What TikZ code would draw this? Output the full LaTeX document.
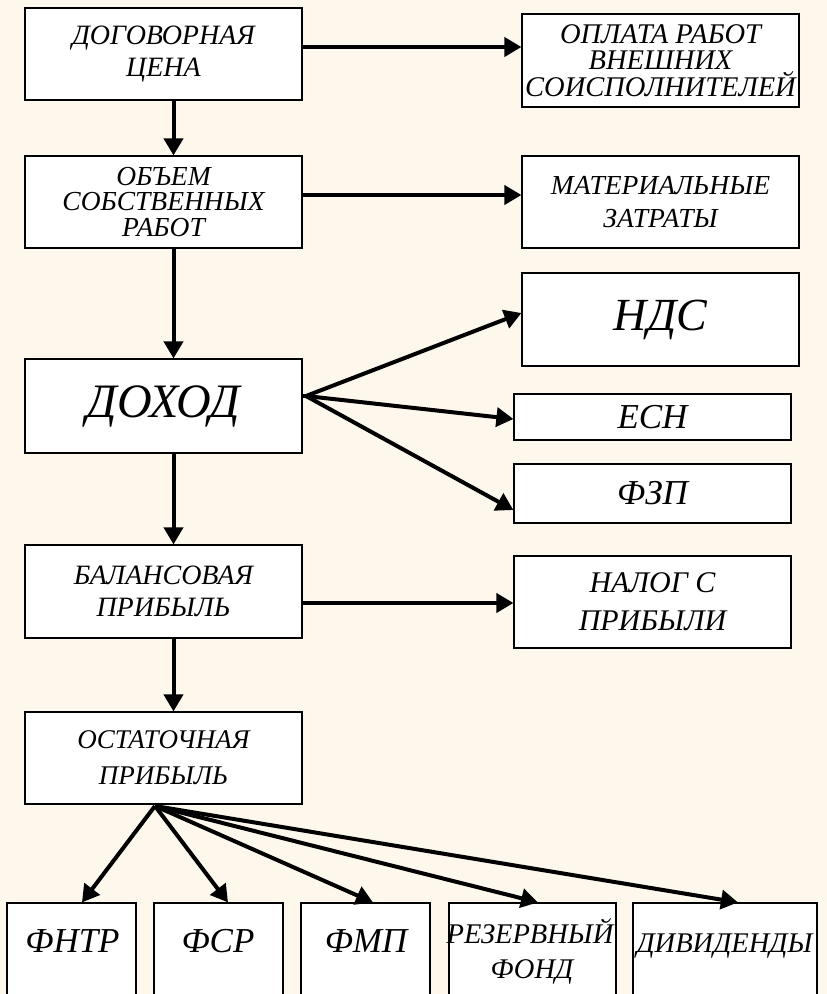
\documentclass[tikz,border=0pt]{standalone}
\usepackage{fontspec}
\setmainfont{Liberation Serif}
\usetikzlibrary{arrows.meta}
\definecolor{bg}{RGB}{253,248,235}
\begin{document}
\begin{tikzpicture}[x=1pt,y=-1pt,
  box/.style={draw, line width=1.2pt, fill=white, inner sep=0pt, align=center},
  txt/.style={inner sep=0pt, align=center},
  arr/.style={line width=4pt, -{Triangle[length=17pt,width=19pt]}},
  fs/.style 2 args={font=\fontsize{#1}{#2}\selectfont\itshape},
]
\fill[bg] (0,0) rectangle (827,994);
\useasboundingbox (0,0) rectangle (827,994);
\clip (0,0) rectangle (827,994);

% left column
\node[box, minimum width=277pt, minimum height=92pt, fs={28}{32}] (dog) at (163.5,54) {ДОГОВОРНАЯ\\ЦЕНА};
\node[box, minimum width=277pt, minimum height=92pt, fs={27.5}{25.5}] (obj) at (163.5,202) {ОБЪЕМ\\СОБСТВЕННЫХ\\РАБОТ};
\node[box, minimum width=277pt, minimum height=94pt, fs={48}{48}] (dox) at (163.5,406) {ДОХОД};
\node[box, minimum width=277pt, minimum height=93pt, fs={28}{32}] (bal) at (163.5,591.5) {БАЛАНСОВАЯ\\ПРИБЫЛЬ};
\node[box, minimum width=277pt, minimum height=92pt, fs={27}{36}] (ost) at (163.5,758) {ОСТАТОЧНАЯ\\ПРИБЫЛЬ};

% right column
\node[box, minimum width=277pt, minimum height=93pt, fs={28.5}{26.5}] (opl) at (660.5,60.5) {ОПЛАТА РАБОТ\\ВНЕШНИХ\\СОИСПОЛНИТЕЛЕЙ};
\node[box, minimum width=277pt, minimum height=92pt, fs={27.5}{33}] (mat) at (660.5,202) {МАТЕРИАЛЬНЫЕ\\ЗАТРАТЫ};
\node[box, minimum width=277pt, minimum height=93pt, fs={46}{46}] (nds) at (660.5,319.5) {НДС};
\node[box, minimum width=277pt, minimum height=46pt, fs={35}{35}] (esn) at (652.5,417) {ЕСН};
\node[box, minimum width=277pt, minimum height=59pt, fs={35}{35}] (fzp) at (652.5,493.5) {ФЗП};
\node[box, minimum width=277pt, minimum height=92pt, fs={30}{38}] (nal) at (652.5,602) {НАЛОГ С\\ПРИБЫЛИ};

% bottom row (cut by the page edge)
\node[box, minimum width=129pt, minimum height=100pt] (fntr) at (71.5,953) {};
\node[box, minimum width=129pt, minimum height=100pt] (fsr) at (218.5,953) {};
\node[box, minimum width=129pt, minimum height=100pt] (fmp) at (365.5,953) {};
\node[box, minimum width=167pt, minimum height=100pt] (rez) at (532.5,953) {};
\node[box, minimum width=184pt, minimum height=100pt] (div) at (725,953) {};
\node[txt, anchor=base, fs={35}{35}] (fntr-t) at (72.5,952) {ФНТР};
\node[txt, anchor=base, fs={35}{35}] (fsr-t) at (218,952) {ФСР};
\node[txt, anchor=base, fs={35}{35}] (fmp-t) at (366,952) {ФМП};
\node[txt, anchor=base, fs={28.5}{28.5}] (rez-t1) at (530,943) {РЕЗЕРВНЫЙ};
\node[txt, anchor=base, fs={28.5}{28.5}] (rez-t2) at (532,978) {ФОНД};
\node[txt, anchor=base, fs={28.5}{28.5}] (div-t) at (724.5,952) {ДИВИДЕНДЫ};

% helper coordinates
\coordinate (vx) at (173.5,0);
\coordinate (fanA) at (306,396);
\coordinate (fanB) at (155,806);

% vertical arrows
\draw[arr] (vx |- dog.south) -- (vx |- obj.north);
\draw[arr] (vx |- obj.south) -- (vx |- dox.north);
\draw[arr] (vx |- dox.south) -- (vx |- bal.north);
\draw[arr] (vx |- bal.south) -- (vx |- ost.north);

% horizontal arrows
\draw[arr] (dog.east |- 0,47) -- (opl.west |- 0,47);
\draw[arr] (obj.east |- 0,195) -- (mat.west |- 0,195);
\draw[arr] (bal.east |- 0,603) -- (nal.west |- 0,603);

% fan from ДОХОД
\draw[line width=4pt] (dox.east |- fanA) -- (fanA);
\draw[arr] (fanA) -- (nds.west |- 0,313);
\draw[arr] (fanA) -- (esn.west |- 0,419);
\draw[arr] (fanA) -- (fzp.west |- 0,510);

% fan from ОСТАТОЧНАЯ ПРИБЫЛЬ
\draw[arr] (fanB) -- (fntr.north -| 82,0);
\draw[arr] (fanB) -- (fsr.north -| 228,0);
\draw[arr] (fanB) -- (fmp.north -| 373,0);
\draw[arr] (fanB) -- (rez.north -| 538,0);
\draw[arr] (fanB) -- (div.north -| 738,0);
\end{tikzpicture}
\end{document}
